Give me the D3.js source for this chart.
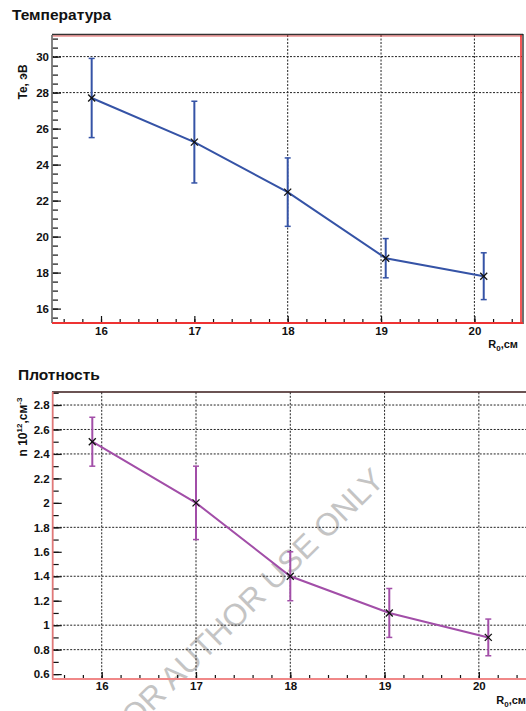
<!DOCTYPE html>
<html>
<head>
<meta charset="utf-8">
<script src="https://cdn.jsdelivr.net/npm/d3@7"></script>
<style>
  html, body { margin: 0; padding: 0; background: #fff; }
  svg { display: block; }
  text { font-family: "Liberation Sans", Arial, Helvetica, sans-serif; }
</style>
</head>
<body>
<svg id="chart" width="526" height="711"></svg>
<script>
// ---------- DATA ----------
const xValues = [15.9, 17.0, 18.0, 19.05, 20.1];
const teValues = [27.7, 25.25, 22.47, 18.8, 17.8];
const teErrors = [2.2, 2.27, 1.9, 1.09, 1.3];
const nValues = [2.5, 2.0, 1.4, 1.1, 0.9];
const nErrors = [0.2, 0.3, 0.2, 0.2, 0.15];
const xTickLabels = [16, 17, 18, 19, 20];
const teTickLabels = [16, 18, 20, 22, 24, 26, 28, 30];
const nTickLabels = [0.6, 0.8, 1.0, 1.2, 1.4, 1.6, 1.8, 2.0, 2.2, 2.4, 2.6, 2.8];
const teGridY = [28, 30];
const teGridX = [18, 19, 20];
const nGridY = [0.8, 1.0, 1.4, 1.8, 2.4, 2.6, 2.8];
const nGridX = [16, 17, 18, 19, 20];

const svg = d3.select("#chart");
const wmLayer = svg.append("g");

function minorTicks(lo, hi, step) {
  const out = [];
  for (let v = Math.ceil(lo / step - 1e-9) * step; v <= hi + 1e-9; v += step) out.push(+v.toFixed(4));
  return out;
}

function drawPanel(cfg) {
  const g = svg.append("g");
  const x = d3.scaleLinear().domain(cfg.xDomain).range([cfg.left, cfg.right]);
  const y = d3.scaleLinear().domain(cfg.yDomain).range([cfg.bottom, cfg.top]);

  // grid
  const grid = g.append("g").attr("stroke", "#222").attr("stroke-width", 1)
    .attr("stroke-dasharray", "2,1.5").attr("fill", "none");
  cfg.gridY.forEach(v => grid.append("line")
    .attr("x1", cfg.left).attr("x2", cfg.right).attr("y1", y(v)).attr("y2", y(v)));
  cfg.gridX.forEach(v => grid.append("line")
    .attr("x1", x(v)).attr("x2", x(v)).attr("y1", cfg.top).attr("y2", cfg.bottom));

  // minor ticks
  const yMinor = minorTicks(cfg.yDomain[0], cfg.yDomain[1], cfg.yMinorStep);
  const xMinor = minorTicks(cfg.xDomain[0], cfg.xDomain[1], 0.2);
  const yMin = g.append("g").attr("transform", `translate(${cfg.left},0)`)
    .call(d3.axisLeft(y).tickValues(yMinor).tickSize(-6).tickFormat(""));
  yMin.select(".domain").remove();
  const xMin = g.append("g").attr("transform", `translate(0,${cfg.bottom})`)
    .call(d3.axisBottom(x).tickValues(xMinor).tickSize(-4).tickFormat(""));
  xMin.select(".domain").remove();

  // major axes
  const yAx = g.append("g").attr("transform", `translate(${cfg.left},0)`)
    .call(d3.axisLeft(y).tickValues(cfg.yTicks).tickSize(-9).tickPadding(3)
      .tickFormat(d => String(+d.toFixed(1))));
  yAx.select(".domain").remove();
  yAx.selectAll("text").attr("font-size", 11.5).attr("font-weight", "bold")
    .attr("fill", "#111").attr("font-family", "Liberation Sans, Arial, sans-serif");
  const xAx = g.append("g").attr("transform", `translate(0,${cfg.bottom})`)
    .call(d3.axisBottom(x).tickValues(xTickLabels).tickSize(-7).tickPadding(cfg.xPad)
      .tickFormat(d3.format("d")));
  xAx.select(".domain").remove();
  xAx.selectAll("text").attr("font-size", 11.5).attr("font-weight", "bold")
    .attr("fill", "#111").attr("font-family", "Liberation Sans, Arial, sans-serif");
  g.selectAll(".tick line").attr("stroke", "#111").attr("stroke-width", 1.2);

  // frame
  cfg.frame(g);

  // data line
  const pts = xValues.map((xv, i) => ({ x: xv, y: cfg.values[i], e: cfg.errors[i] }));
  g.append("path").datum(pts)
    .attr("fill", "none").attr("stroke", cfg.color).attr("stroke-width", 2)
    .attr("d", d3.line().x(d => x(d.x)).y(d => y(d.y)));

  // error bars
  const eb = g.append("g").attr("stroke", cfg.color).attr("stroke-width", 2);
  pts.forEach(d => {
    eb.append("line").attr("x1", x(d.x)).attr("x2", x(d.x))
      .attr("y1", y(d.y + d.e)).attr("y2", y(d.y - d.e));
    [d.y + d.e, d.y - d.e].forEach(v => eb.append("line")
      .attr("x1", x(d.x) - 3).attr("x2", x(d.x) + 3)
      .attr("y1", y(v)).attr("y2", y(v)).attr("stroke-width", 1.5));
  });

  // markers
  const mk = g.append("g").attr("stroke", "#111").attr("stroke-width", 1.3);
  pts.forEach(d => {
    const cx = x(d.x), cy = y(d.y), s = 3.5;
    mk.append("line").attr("x1", cx - s).attr("y1", cy - s).attr("x2", cx + s).attr("y2", cy + s);
    mk.append("line").attr("x1", cx - s).attr("y1", cy + s).attr("x2", cx + s).attr("y2", cy - s);
  });

  return { x, y, g };
}

// ---------- TOP PANEL ----------
const topCfg = {
  left: 52, right: 522, top: 35, bottom: 323,
  xDomain: [15.475, 20.51], yDomain: [15.2, 31.2],
  yTicks: teTickLabels, yMinorStep: 0.5, xPad: 4,
  values: teValues, errors: teErrors, color: "#3553a6",
  gridX: teGridX, gridY: teGridY,
  frame: g => {
    g.append("line").attr("x1", 52).attr("x2", 523).attr("y1", 34.5).attr("y2", 34.5)
      .attr("stroke", "#333").attr("stroke-width", 1.5);
    g.append("line").attr("x1", 52).attr("x2", 522).attr("y1", 36).attr("y2", 36)
      .attr("stroke", "#d33").attr("stroke-width", 0.8);
    g.append("line").attr("x1", 521).attr("x2", 521).attr("y1", 35).attr("y2", 323)
      .attr("stroke", "#e22").attr("stroke-width", 1.5);
    g.append("line").attr("x1", 523).attr("x2", 523).attr("y1", 34).attr("y2", 324)
      .attr("stroke", "#222").attr("stroke-width", 1.3);
    g.append("line").attr("x1", 52).attr("x2", 52).attr("y1", 35).attr("y2", 323)
      .attr("stroke", "#777").attr("stroke-width", 1.8);
    g.append("line").attr("x1", 52).attr("x2", 523).attr("y1", 323).attr("y2", 323)
      .attr("stroke", "#e33").attr("stroke-width", 2.2);
  }
};
drawPanel(topCfg);

// ---------- BOTTOM PANEL ----------
const botCfg = {
  left: 52.7, right: 526, top: 392.3, bottom: 679,
  xDomain: [15.48, 20.5], yDomain: [0.56, 2.904],
  yTicks: nTickLabels, yMinorStep: 0.1, xPad: 3,
  values: nValues, errors: nErrors, color: "#a24ea8",
  gridX: nGridX, gridY: nGridY,
  frame: g => {
    g.append("line").attr("x1", 52).attr("x2", 526).attr("y1", 392).attr("y2", 392)
      .attr("stroke", "#3a1a1a").attr("stroke-width", 1.5);
    g.append("line").attr("x1", 52.7).attr("x2", 52.7).attr("y1", 392).attr("y2", 679)
      .attr("stroke", "#e07878").attr("stroke-width", 1.8);
    g.append("line").attr("x1", 52).attr("x2", 526).attr("y1", 679).attr("y2", 679)
      .attr("stroke", "#f08888").attr("stroke-width", 2.2);
  }
};
drawPanel(botCfg);

// ---------- TEXT ----------
svg.append("text").attr("x", 12).attr("y", 20).attr("font-size", 15.5).attr("font-weight", "bold")
  .attr("fill", "#111").text("Температура");
svg.append("text").attr("x", 18).attr("y", 380).attr("font-size", 15.5).attr("font-weight", "bold")
  .attr("fill", "#111").text("Плотность");

svg.append("text").attr("transform", "translate(27,82) rotate(-90)").attr("text-anchor", "middle")
  .attr("font-size", 12).attr("font-weight", "bold").attr("fill", "#111").text("Te, эВ");

const nl = svg.append("text").attr("transform", "translate(27,427) rotate(-90)").attr("text-anchor", "middle")
  .attr("font-size", 12).attr("font-weight", "bold").attr("fill", "#111");
nl.append("tspan").text("n 10");
nl.append("tspan").attr("dy", -5).attr("font-size", 8).text("12");
nl.append("tspan").attr("dy", 5).text(",см");
nl.append("tspan").attr("dy", -5).attr("font-size", 8).text("-3");

function rLabel(xr, yb) {
  const t = svg.append("text").attr("x", xr).attr("y", yb).attr("text-anchor", "end")
    .attr("font-size", 11).attr("font-weight", "bold").attr("fill", "#111");
  t.append("tspan").text("R");
  t.append("tspan").attr("dy", 3).attr("font-size", 8).text("0");
  t.append("tspan").attr("dy", -3).text(",см");
}
rLabel(518, 348);
rLabel(526, 704);

// watermark (behind the data, as in the scan)
wmLayer.append("text").attr("transform", "translate(386,482) rotate(-44.5)").attr("text-anchor", "end")
  .attr("font-size", 31.5).attr("fill", "#c4c4c4").text("FOR AUTHOR USE ONLY");
</script>
</body>
</html>
